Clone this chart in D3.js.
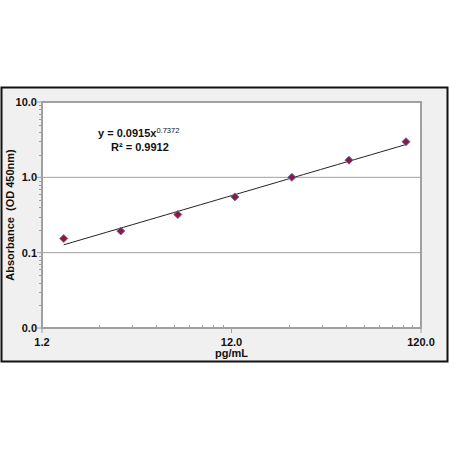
<!DOCTYPE html>
<html>
<head>
<meta charset="utf-8">
<script src="https://cdn.jsdelivr.net/npm/d3@7"></script>
<style>
  body { margin: 0; background: white; }
  text { font-family: Arial, "Liberation Sans", sans-serif; font-weight: bold; fill: #111; }
</style>
</head>
<body>
<svg width="450" height="450"></svg>
<script>
// data
var conc = [1.5625, 3.125, 6.25, 12.5, 25, 50, 100];
var absorb = [0.154, 0.194, 0.32, 0.55, 1.0, 1.69, 2.97];
var xTicks = [1.2, 12, 120];
var yTicks = [0.01, 0.1, 1, 10];
var fitA = 0.0915, fitB = 0.7372;

var svg = d3.select("svg");

// outer frame
svg.append("rect")
  .attr("x", 1.5).attr("y", 87.5)
  .attr("width", 446).attr("height", 274)
  .attr("fill", "#f0f0f0").attr("stroke", "#111").attr("stroke-width", 2);

var L = 42, T = 102, R = 421, B = 328;
var xs = d3.scaleLog().domain([1.2, 120]).range([L, R]);
var ys = d3.scaleLog().domain([0.01, 10]).range([B, T]);

// plot area
svg.append("rect")
  .attr("x", L).attr("y", T).attr("width", R - L).attr("height", B - T)
  .attr("fill", "white").attr("stroke", "#a0a0a0").attr("stroke-width", 2);

// gridlines
svg.append("g").selectAll("line")
  .data([0.1, 1])
  .enter().append("line")
  .attr("x1", L).attr("x2", R)
  .attr("y1", function(d){ return ys(d); })
  .attr("y2", function(d){ return ys(d); })
  .attr("stroke", "#a0a0a0").attr("stroke-width", 1);

// y minor ticks
var yMinor = [];
[0.01, 0.1, 1].forEach(function(dec){
  for (var k = 2; k <= 9; k++) yMinor.push(dec * k);
});
svg.append("g").selectAll("line")
  .data(yMinor)
  .enter().append("line")
  .attr("x1", L - 3).attr("x2", L)
  .attr("y1", function(d){ return Math.round(ys(d)) + 0.5; })
  .attr("y2", function(d){ return Math.round(ys(d)) + 0.5; })
  .attr("stroke", "#a0a0a0");

// x minor ticks
var xMinor = [];
[1.2, 12].forEach(function(dec){
  for (var k = 2; k <= 9; k++) xMinor.push(dec * k);
});
svg.append("g").selectAll("line")
  .data(xMinor)
  .enter().append("line")
  .attr("y1", B - 3).attr("y2", B)
  .attr("x1", function(d){ return Math.round(xs(d)) + 0.5; })
  .attr("x2", function(d){ return Math.round(xs(d)) + 0.5; })
  .attr("stroke", "#a0a0a0");

// major ticks
svg.append("g").selectAll("line")
  .data(yTicks)
  .enter().append("line")
  .attr("x1", L - 5).attr("x2", L)
  .attr("y1", function(d){ return ys(d); })
  .attr("y2", function(d){ return ys(d); })
  .attr("stroke", "#a0a0a0");
svg.append("g").selectAll("line")
  .data(xTicks)
  .enter().append("line")
  .attr("y1", B).attr("y2", B + 5)
  .attr("x1", function(d){ return xs(d); })
  .attr("x2", function(d){ return xs(d); })
  .attr("stroke", "#a0a0a0");

// tick labels
svg.append("g").selectAll("text")
  .data(yTicks)
  .enter().append("text")
  .attr("x", L - 5)
  .attr("y", function(d){ return ys(d) + 4; })
  .attr("text-anchor", "end")
  .attr("font-size", 11)
  .text(function(d){ return d3.format(".1f")(d); });
svg.append("g").selectAll("text")
  .data(xTicks)
  .enter().append("text")
  .attr("x", function(d){ return xs(d); })
  .attr("y", B + 18)
  .attr("text-anchor", "middle")
  .attr("font-size", 11)
  .text(function(d){ return d3.format(".1f")(d); });

// axis titles
svg.append("text")
  .attr("transform", "translate(14," + ((T + B) / 2) + ")rotate(-90)")
  .attr("text-anchor", "middle")
  .attr("font-size", 11)
  .attr("xml:space", "preserve")
  .text("Absorbance  (OD 450nm)");
svg.append("text")
  .attr("x", xs(12)).attr("y", B + 29)
  .attr("text-anchor", "middle")
  .attr("font-size", 11)
  .text("pg/mL");

// power trendline
var xFit = d3.range(0, 41).map(function(i){
  return conc[0] * Math.pow(conc[conc.length - 1] / conc[0], i / 40);
});
svg.append("path")
  .datum(xFit)
  .attr("fill", "none")
  .attr("stroke", "#222")
  .attr("stroke-width", 1)
  .attr("d", d3.line()
    .x(function(d){ return xs(d); })
    .y(function(d){ return ys(fitA * Math.pow(d, fitB)); }));

// diamond markers
svg.append("g").selectAll("path")
  .data(conc)
  .enter().append("path")
  .attr("transform", function(d, i){ return "translate(" + xs(d) + "," + ys(absorb[i]) + ")"; })
  .attr("d", "M0,-4L4,0L0,4L-4,0Z")
  .attr("fill", "#8b1a3c")
  .attr("stroke", "#6a6ab0")
  .attr("stroke-width", 1);

// equation
var eq = svg.append("text")
  .attr("x", 98).attr("y", 137)
  .attr("font-size", 11);
eq.append("tspan").text("y = 0.0915x");
eq.append("tspan").attr("dy", -4).attr("font-size", 7.5).attr("font-weight", "normal").text("0.7372");
svg.append("text")
  .attr("x", 111).attr("y", 151)
  .attr("font-size", 11)
  .text("R\u00b2 = 0.9912");
</script>
</body>
</html>
